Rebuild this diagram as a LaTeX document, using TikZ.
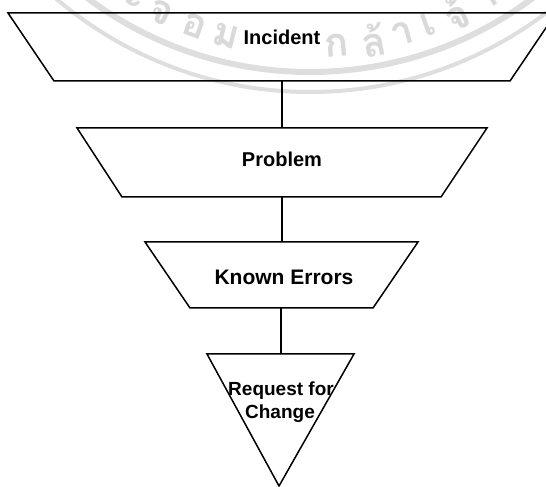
\documentclass[tikz,border=0pt]{standalone}
\usepackage{fontspec}
\setmainfont{Liberation Sans}
\newfontfamily\thaifont[Script=Thai]{Loma}

\begin{document}
\begin{tikzpicture}[x=1pt, y=1pt,
    outline/.style={draw=black, line width=1.5pt, line join=miter},
    link/.style={draw=black, line width=1.4pt},
    lbl/.style={inner sep=0pt, anchor=base, font=\bfseries\fontsize{20}{24}\selectfont},
    smalllbl/.style={lbl, font=\bfseries\fontsize{19}{23}\selectfont},
    sealring/.style={draw=black!13, line width=6pt},
    sealtext/.style={text=black!15, inner sep=0pt, font=\thaifont\bfseries\fontsize{40}{46}\selectfont}]
  \useasboundingbox (0,0) rectangle (546,487);
  \clip (0,0) rectangle (546,487);
  \fill[white] (0,0) rectangle (546,487);

  % faint seal stamped behind the funnel
  \coordinate (sealc) at (310,787);
  \draw[sealring] (sealc) circle (372);
  \draw[sealring, line width=4pt] (sealc) circle (392);
  \foreach \t/\g in {-30.5/ะ, -25.5/จ, -19.5/อ, -14/ม, 4.5/ก, 10.5/ล้, 15.5/า, 20/เ, 25/จ้, 30.5/า}
    \node[sealtext, rotate=\t] at ([shift={(-90+\t:346)}]sealc) {\g};

  % funnel stages
  \coordinate (inc-tl) at (8,474);   \coordinate (inc-tr) at (556,474);
  \coordinate (inc-br) at (510,406); \coordinate (inc-bl) at (54,406);
  \coordinate (inc-b)  at (282,406);

  \coordinate (prb-tl) at (77,359);  \coordinate (prb-tr) at (487,359);
  \coordinate (prb-br) at (441,290); \coordinate (prb-bl) at (122,290);
  \coordinate (prb-t)  at (282,359); \coordinate (prb-b)  at (282,290);

  \coordinate (ke-tl) at (145,245);  \coordinate (ke-tr) at (418,245);
  \coordinate (ke-br) at (373,179);  \coordinate (ke-bl) at (190,179);
  \coordinate (ke-t)  at (282,245);  \coordinate (ke-b)  at (281,179);

  \coordinate (rfc-tl) at (207,133); \coordinate (rfc-tr) at (354,133);
  \coordinate (rfc-tip) at (279,1);  \coordinate (rfc-t)  at (281,133);

  \draw[outline] (inc-tl) -- (inc-tr) -- (inc-br) -- (inc-bl) -- cycle;
  \draw[outline] (prb-tl) -- (prb-tr) -- (prb-br) -- (prb-bl) -- cycle;
  \draw[outline] (ke-tl) -- (ke-tr) -- (ke-br) -- (ke-bl) -- cycle;
  \draw[outline] (rfc-tl) -- (rfc-tr) -- (rfc-tip) -- cycle;

  % connectors between stages
  \draw[link] (inc-b) -- (prb-t);
  \draw[link] (prb-b) -- (ke-t);
  \draw[link] (ke-b) -- (rfc-t);

  % labels
  \node[lbl] (incident) at (282,442) {Incident};
  \node[lbl] (problem) at (282,320.5) {Problem};
  \node[lbl, font=\bfseries\fontsize{21}{25}\selectfont] (known) at (284,202) {Known Errors};
  \node[smalllbl] (rfc) at (281,91) {Request for};
  \node[smalllbl] (rfc2) at (280,68) {Change};
\end{tikzpicture}
\end{document}
